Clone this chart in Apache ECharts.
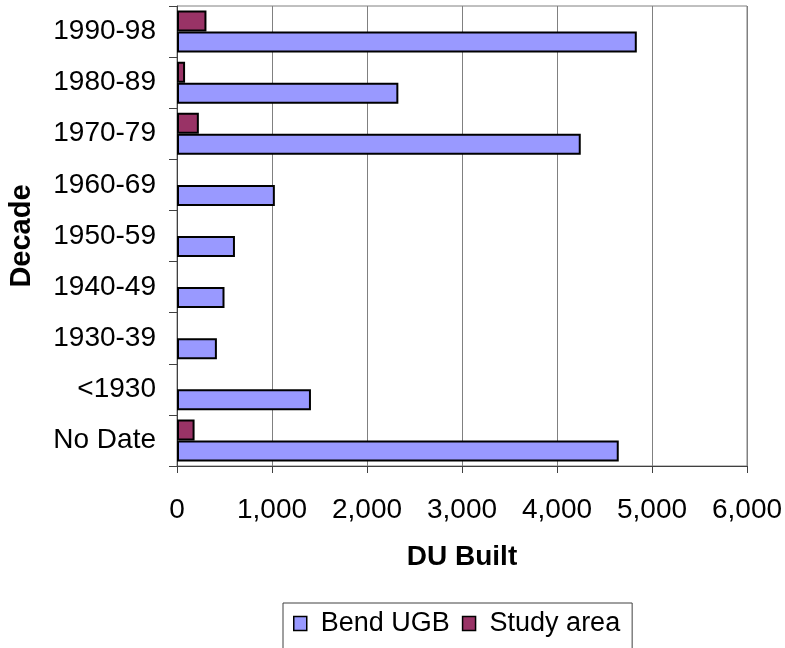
<!DOCTYPE html>
<html>
<head>
<meta charset="utf-8">
<script src="https://cdn.jsdelivr.net/npm/echarts@6/dist/echarts.min.js"></script>
<style>
  html, body { margin: 0; padding: 0; background: #ffffff; }
  #chart { width: 785px; height: 648px; }
</style>
</head>
<body>
<div id="chart"></div>
<script>
// Dwelling units built per decade, listed top to bottom
const decades = ['1990-98', '1980-89', '1970-79', '1960-69', '1950-59', '1940-49', '1930-39', '<1930', 'No Date'];
const bendUGB = [4840, 2330, 4250, 1030, 610, 500, 420, 1410, 4650];
const studyArea = [310, 85, 230, null, null, null, null, null, 185];
const xTicks = [0, 1000, 2000, 3000, 4000, 5000, 6000];

const FONT = '"Liberation Sans", Arial, sans-serif';

const chart = echarts.init(document.getElementById('chart'), null, { renderer: 'canvas' });

chart.setOption({
  animation: false,
  backgroundColor: '#ffffff',
  textStyle: { fontFamily: FONT, color: '#000000' },
  grid: {
    left: 177, right: 38, top: 6, bottom: 182,
    containLabel: false,
    outerBoundsMode: 'none',
    show: true, borderColor: '#808080', borderWidth: 1, backgroundColor: 'transparent'
  },
  legend: {
    data: ['Bend UGB', 'Study area'],
    left: 283, top: 603,
    padding: [7, 12, 20, 10],
    borderColor: '#404040', borderWidth: 1,
    itemWidth: 13, itemHeight: 14, itemGap: 12,
    icon: 'rect',
    itemStyle: { borderColor: '#000000', borderWidth: 1.5 },
    textStyle: { fontFamily: FONT, fontSize: 27, color: '#000000', padding: [0, 0, 0, 9] }
  },
  xAxis: {
    type: 'value',
    min: xTicks[0], max: xTicks[xTicks.length - 1], interval: 1000,
    name: 'DU Built', nameLocation: 'middle', nameGap: 77,
    nameTextStyle: { fontFamily: FONT, fontSize: 28, fontWeight: 'bold', color: '#000000' },
    axisLine: { show: true, lineStyle: { color: '#404040', width: 1 } },
    axisTick: { show: true, length: 7, lineStyle: { color: '#404040' } },
    axisLabel: {
      margin: 30, fontFamily: FONT, fontSize: 28, color: '#000000',
      formatter: v => v.toLocaleString('en-US')
    },
    splitLine: { show: true, lineStyle: { color: '#808080', width: 1 } }
  },
  yAxis: {
    type: 'category',
    data: decades,
    inverse: true,
    name: 'Decade', nameLocation: 'middle', nameGap: 141, nameRotate: 90,
    nameTextStyle: { fontFamily: FONT, fontSize: 29, fontWeight: 'bold', color: '#000000' },
    axisLine: { show: true, lineStyle: { color: '#404040', width: 1 } },
    axisTick: { show: true, length: 8, alignWithLabel: false, lineStyle: { color: '#404040' } },
    axisLabel: { margin: 21, fontFamily: FONT, fontSize: 28, color: '#000000' },
    splitLine: { show: false }
  },
  series: [
    {
      name: 'Study area', type: 'bar', data: studyArea,
      barWidth: 21, barGap: '0%',
      itemStyle: { color: '#993366', borderColor: '#000000', borderWidth: 2 }
    },
    {
      name: 'Bend UGB', type: 'bar', data: bendUGB,
      barWidth: 21, barGap: '0%',
      itemStyle: { color: '#9999FF', borderColor: '#000000', borderWidth: 2 }
    }
  ]
});
</script>
</body>
</html>
